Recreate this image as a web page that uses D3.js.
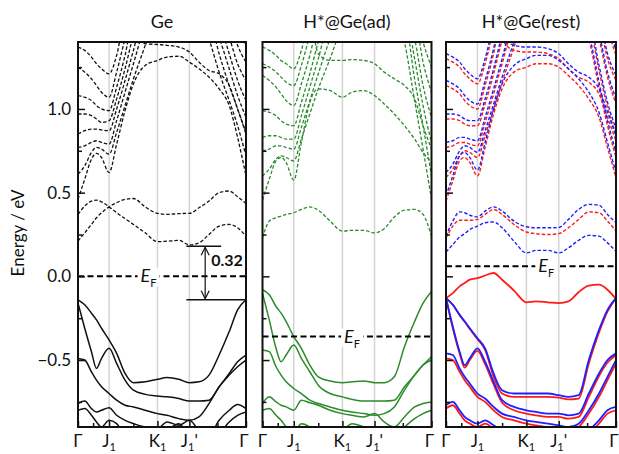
<!DOCTYPE html>
<html lang="en">
<head>
<meta charset="UTF-8" />
<title>Band structures</title>
<script src="https://d3js.org/d3.v7.min.js"></script>
<style>
  body { margin: 0; background: #fff; }
  text { font-family: Lato, 'Open Sans', sans-serif; fill: #111; }
</style>
</head>
<body>
<svg width="619" height="454"></svg>
<script>
// k path (fraction of Γ–J1–K1–J1'–Γ) and axis labels
var kGrid = [0, 0.04, 0.08, 0.11, 0.14, 0.185, 0.23, 0.28, 0.33, 0.4, 0.473, 0.53, 0.6, 0.663, 0.72, 0.78, 0.84, 0.9, 0.95, 1]
var kTicks = [0, 0.185, 0.473, 0.663, 1]
var kMinor = [0.09, 0.33, 0.83]
var kNames = [['Γ', '', ''], ['J', '1', ''], ['K', '1', ''], ['J', '1', "'"], ['Γ', '', '']]
var energyTicks = [-0.5, 0, 0.5, 1]
var energyMinor = [-0.75, -0.25, 0.25, 0.75, 1.25]
var titles = ['Ge', 'H*@Ge(ad)', 'H*@Ge(rest)']
var fermiLevels = [0, -0.36, 0.06]
var fermiLabelK = [0.42, 0.53, 0.59]
var gapTop = 0.18, gapBottom = -0.14, gapText = '0.32'

// Ge
var geValence = [
  [-0.14, -0.17, -0.22, -0.26, -0.31, -0.38, -0.46, -0.58, -0.635, -0.63, -0.615, -0.605, -0.615, -0.635, -0.63, -0.59, -0.47, -0.33, -0.2, -0.14],
  [-0.16, -0.31, -0.45, -0.55, -0.49, -0.43, -0.52, -0.62, -0.68, -0.705, -0.715, -0.72, -0.73, -0.745, -0.745, -0.74, -0.66, -0.58, -0.51, -0.47],
  [-0.49, -0.5, -0.57, -0.62, -0.66, -0.7, -0.74, -0.77, -0.78, -0.8, -0.82, -0.83, -0.85, -0.86, -0.84, -0.76, -0.66, -0.59, -0.54, -0.5],
  [-0.76, -0.745, -0.79, -0.81, -0.8, -0.785, -0.83, -0.86, -0.88, -0.9, -0.91, -0.87, -0.89, -0.86, -0.92, -0.95, -0.86, -0.8, -0.765, -0.79],
  [-0.8, -0.79, -0.83, -0.87, -0.9, -0.86, -0.88, -0.95, -0.97, -0.97, -0.95, -0.92, -0.88, -0.95, -0.97, -0.97, -0.94, -0.87, -0.83, -0.81]
]
var geConduction = [
  [0.21, 0.26, 0.31, 0.35, 0.38, 0.415, 0.44, 0.46, 0.465, 0.415, 0.376, 0.37, 0.375, 0.376, 0.41, 0.45, 0.5, 0.51, 0.475, 0.435],
  [0.37, 0.42, 0.45, 0.455, 0.445, 0.415, 0.38, 0.345, 0.31, 0.26, 0.207, 0.21, 0.215, 0.188, 0.2, 0.25, 0.3, 0.31, 0.29, 0.24],
  [0.46, 0.58, 0.7, 0.735, 0.71, 0.62, 0.79, 0.99, 1.15, 1.26, 1.29, 1.31, 1.315, 1.28, 1.24, 1.19, 1.12, 1.02, 0.83, 0.6],
  [0.61, 0.66, 0.74, 0.77, 0.76, 0.73, 0.86, 1.02, 1.18, 1.38, 1.6, 1.6, 1.6, 1.6, 1.6, 1.42, 1.22, 1.05, 0.9, 0.72],
  [0.77, 0.78, 0.8, 0.81, 0.8, 0.79, 0.93, 1.1, 1.27, 1.5, 1.6, 1.6, 1.6, 1.6, 1.6, 1.55, 1.33, 1.14, 1.0, 0.85],
  [0.85, 0.87, 0.88, 0.88, 0.875, 0.87, 1.0, 1.17, 1.35, 1.6, 1.6, 1.6, 1.6, 1.6, 1.6, 1.6, 1.43, 1.24, 1.08, 0.95],
  [0.97, 0.97, 0.96, 0.94, 0.92, 0.93, 1.06, 1.24, 1.44, 1.6, 1.6, 1.6, 1.6, 1.6, 1.6, 1.6, 1.52, 1.33, 1.17, 1.05],
  [1.08, 1.07, 1.05, 1.02, 1.0, 0.99, 1.13, 1.32, 1.55, 1.6, 1.6, 1.6, 1.6, 1.6, 1.6, 1.6, 1.6, 1.43, 1.27, 1.17],
  [1.25, 1.22, 1.18, 1.14, 1.1, 1.07, 1.22, 1.42, 1.6, 1.6, 1.6, 1.6, 1.6, 1.6, 1.6, 1.6, 1.6, 1.55, 1.38, 1.28],
  [1.37, 1.35, 1.31, 1.27, 1.24, 1.21, 1.32, 1.55, 1.6, 1.6, 1.6, 1.6, 1.6, 1.6, 1.6, 1.6, 1.6, 1.6, 1.5, 1.38],
  [1.6, 1.6, 1.6, 1.6, 1.6, 1.6, 1.6, 1.6, 1.45, 1.39, 1.385, 1.38, 1.37, 1.34, 1.28, 1.23, 1.21, 1.14, 1.0, 0.86]
]

// H*@Ge(ad)
var adValence = [
  [-0.08, -0.11, -0.18, -0.22, -0.27, -0.36, -0.43, -0.53, -0.6, -0.625, -0.635, -0.63, -0.625, -0.635, -0.635, -0.6, -0.42, -0.27, -0.16, -0.09],
  [-0.1, -0.26, -0.43, -0.51, -0.47, -0.41, -0.49, -0.57, -0.65, -0.7, -0.72, -0.735, -0.745, -0.745, -0.745, -0.74, -0.66, -0.59, -0.53, -0.48],
  [-0.44, -0.45, -0.54, -0.59, -0.63, -0.67, -0.7, -0.74, -0.76, -0.78, -0.8, -0.81, -0.82, -0.83, -0.82, -0.78, -0.68, -0.59, -0.53, -0.5],
  [-0.76, -0.72, -0.75, -0.77, -0.78, -0.8, -0.74, -0.755, -0.77, -0.8, -0.82, -0.83, -0.84, -0.82, -0.87, -0.9, -0.84, -0.78, -0.76, -0.75],
  [-0.8, -0.79, -0.83, -0.86, -0.9, -0.93, -0.88, -0.9, -0.95, -0.95, -0.92, -0.88, -0.9, -0.93, -0.97, -0.95, -0.9, -0.85, -0.82, -0.8]
]
var adConduction = [
  [0.23, 0.33, 0.35, 0.36, 0.37, 0.38, 0.4, 0.415, 0.395, 0.33, 0.27, 0.275, 0.275, 0.26, 0.285, 0.355, 0.395, 0.4, 0.37, 0.24],
  [0.455, 0.58, 0.69, 0.71, 0.68, 0.575, 0.8, 1.04, 1.12, 1.11, 1.07, 1.1, 1.11, 1.08, 1.03, 0.97, 0.9, 0.82, 0.74, 0.68],
  [0.6, 0.64, 0.7, 0.72, 0.71, 0.69, 0.82, 0.97, 1.12, 1.3, 1.5, 1.6, 1.6, 1.6, 1.6, 1.6, 1.4, 1.05, 0.76, 0.46],
  [0.75, 0.76, 0.78, 0.78, 0.77, 0.76, 0.89, 1.05, 1.21, 1.42, 1.6, 1.6, 1.6, 1.6, 1.6, 1.6, 1.55, 1.18, 0.9, 0.6],
  [0.83, 0.84, 0.84, 0.83, 0.82, 0.82, 0.96, 1.13, 1.3, 1.55, 1.6, 1.6, 1.6, 1.6, 1.6, 1.6, 1.6, 1.3, 1.02, 0.8],
  [0.99, 0.98, 0.96, 0.93, 0.91, 0.9, 1.04, 1.21, 1.4, 1.6, 1.6, 1.6, 1.6, 1.6, 1.6, 1.6, 1.6, 1.42, 1.14, 0.95],
  [1.2, 1.17, 1.13, 1.09, 1.05, 1.02, 1.15, 1.32, 1.52, 1.6, 1.6, 1.6, 1.6, 1.6, 1.6, 1.6, 1.6, 1.55, 1.28, 1.1],
  [1.27, 1.25, 1.22, 1.19, 1.16, 1.14, 1.26, 1.44, 1.6, 1.6, 1.6, 1.6, 1.6, 1.6, 1.6, 1.6, 1.6, 1.6, 1.4, 1.25],
  [1.37, 1.35, 1.32, 1.29, 1.27, 1.24, 1.35, 1.55, 1.6, 1.6, 1.6, 1.6, 1.6, 1.6, 1.6, 1.6, 1.6, 1.6, 1.52, 1.38],
  [1.6, 1.6, 1.6, 1.6, 1.6, 1.6, 1.6, 1.55, 1.33, 1.29, 1.29, 1.295, 1.29, 1.27, 1.22, 1.18, 1.14, 1.06, 0.9, 0.76]
]

// H*@Ge(rest): spin up (red) and spin down (blue)
var restValenceRed = [
  [-0.13, -0.1, -0.06, -0.04, -0.02, -0.01, 0.005, 0.02, -0.02, -0.085, -0.155, -0.15, -0.155, -0.16, -0.15, -0.095, -0.055, -0.05, -0.08, -0.135],
  [-0.13, -0.17, -0.23, -0.27, -0.315, -0.375, -0.44, -0.6, -0.7, -0.72, -0.72, -0.72, -0.72, -0.725, -0.735, -0.73, -0.52, -0.335, -0.21, -0.13],
  [-0.13, -0.31, -0.46, -0.545, -0.5, -0.445, -0.525, -0.645, -0.755, -0.8, -0.82, -0.83, -0.84, -0.84, -0.85, -0.84, -0.72, -0.595, -0.515, -0.47],
  [-0.49, -0.5, -0.57, -0.62, -0.66, -0.72, -0.75, -0.8, -0.84, -0.86, -0.88, -0.89, -0.9, -0.91, -0.92, -0.9, -0.82, -0.72, -0.62, -0.52],
  [-0.79, -0.77, -0.82, -0.86, -0.88, -0.9, -0.88, -0.91, -0.94, -0.95, -0.97, -0.95, -0.97, -0.94, -0.97, -0.99, -0.94, -0.88, -0.82, -0.8]
]
var restValenceBlue = [
  [-0.13, -0.17, -0.23, -0.27, -0.31, -0.37, -0.43, -0.58, -0.68, -0.7, -0.7, -0.7, -0.7, -0.71, -0.72, -0.71, -0.5, -0.32, -0.2, -0.13],
  [-0.13, -0.3, -0.45, -0.53, -0.49, -0.43, -0.51, -0.63, -0.74, -0.78, -0.8, -0.81, -0.82, -0.82, -0.83, -0.82, -0.7, -0.58, -0.5, -0.46],
  [-0.46, -0.47, -0.55, -0.6, -0.64, -0.7, -0.73, -0.78, -0.82, -0.84, -0.86, -0.87, -0.88, -0.89, -0.9, -0.88, -0.8, -0.7, -0.6, -0.5],
  [-0.77, -0.75, -0.8, -0.84, -0.86, -0.88, -0.86, -0.89, -0.92, -0.93, -0.95, -0.93, -0.95, -0.92, -0.95, -0.97, -0.92, -0.86, -0.8, -0.78]
]
var restConductionRed = [
  [0.23, 0.3, 0.335, 0.335, 0.335, 0.34, 0.37, 0.4, 0.37, 0.31, 0.265, 0.255, 0.25, 0.255, 0.29, 0.34, 0.385, 0.38, 0.33, 0.27],
  [0.45, 0.57, 0.69, 0.71, 0.68, 0.6, 0.77, 0.97, 1.12, 1.22, 1.25, 1.27, 1.27, 1.25, 1.2, 1.14, 1.06, 0.95, 0.77, 0.59],
  [0.59, 0.64, 0.72, 0.75, 0.74, 0.71, 0.84, 1.0, 1.16, 1.37, 1.6, 1.6, 1.6, 1.6, 1.6, 1.6, 1.42, 1.13, 0.9, 0.71],
  [0.77, 0.78, 0.8, 0.8, 0.79, 0.78, 0.92, 1.09, 1.27, 1.52, 1.6, 1.6, 1.6, 1.6, 1.6, 1.6, 1.52, 1.23, 1.01, 0.85],
  [0.94, 0.94, 0.93, 0.91, 0.9, 0.9, 1.03, 1.21, 1.41, 1.6, 1.6, 1.6, 1.6, 1.6, 1.6, 1.6, 1.6, 1.42, 1.19, 1.03],
  [1.14, 1.12, 1.09, 1.05, 1.02, 1.0, 1.14, 1.33, 1.58, 1.6, 1.6, 1.6, 1.6, 1.6, 1.6, 1.6, 1.6, 1.52, 1.3, 1.17],
  [1.3, 1.28, 1.25, 1.21, 1.18, 1.15, 1.27, 1.47, 1.6, 1.6, 1.6, 1.6, 1.6, 1.6, 1.6, 1.6, 1.6, 1.6, 1.47, 1.32],
  [1.6, 1.6, 1.6, 1.6, 1.6, 1.6, 1.6, 1.6, 1.42, 1.35, 1.34, 1.34, 1.33, 1.3, 1.24, 1.19, 1.16, 1.09, 0.95, 0.81]
]
var restConductionBlue = [
  [0.145, 0.19, 0.235, 0.255, 0.28, 0.3, 0.32, 0.325, 0.29, 0.21, 0.14, 0.155, 0.155, 0.14, 0.17, 0.215, 0.245, 0.24, 0.2, 0.15],
  [0.24, 0.33, 0.385, 0.38, 0.365, 0.355, 0.39, 0.415, 0.39, 0.33, 0.296, 0.29, 0.29, 0.292, 0.34, 0.4, 0.43, 0.425, 0.37, 0.32],
  [0.48, 0.6, 0.72, 0.74, 0.71, 0.635, 0.8, 1.0, 1.15, 1.26, 1.3, 1.32, 1.32, 1.29, 1.24, 1.18, 1.1, 0.98, 0.8, 0.62],
  [0.62, 0.67, 0.75, 0.78, 0.77, 0.74, 0.87, 1.03, 1.19, 1.4, 1.6, 1.6, 1.6, 1.6, 1.6, 1.6, 1.45, 1.16, 0.93, 0.74],
  [0.8, 0.81, 0.83, 0.83, 0.82, 0.81, 0.95, 1.12, 1.3, 1.55, 1.6, 1.6, 1.6, 1.6, 1.6, 1.6, 1.55, 1.26, 1.04, 0.88],
  [0.97, 0.97, 0.96, 0.94, 0.93, 0.93, 1.06, 1.24, 1.44, 1.6, 1.6, 1.6, 1.6, 1.6, 1.6, 1.6, 1.6, 1.45, 1.22, 1.06],
  [1.17, 1.15, 1.12, 1.08, 1.05, 1.03, 1.17, 1.36, 1.6, 1.6, 1.6, 1.6, 1.6, 1.6, 1.6, 1.6, 1.6, 1.55, 1.33, 1.2],
  [1.33, 1.31, 1.28, 1.24, 1.21, 1.18, 1.3, 1.5, 1.6, 1.6, 1.6, 1.6, 1.6, 1.6, 1.6, 1.6, 1.6, 1.6, 1.5, 1.35],
  [1.6, 1.6, 1.6, 1.6, 1.6, 1.6, 1.6, 1.6, 1.45, 1.38, 1.37, 1.37, 1.36, 1.33, 1.27, 1.22, 1.19, 1.12, 0.98, 0.84]
]

var svg = d3.select('svg')
var plotTop = 42, plotBottom = 427
var panelX = [[78, 246], [262.5, 431.5], [446, 616]]

var y = d3.scaleLinear().domain([-0.9, 1.4]).range([plotBottom, plotTop])

var panels = [
  { sets: [{ bands: geValence, color: '#111', dash: null, w: 1.5 },
           { bands: geConduction, color: '#111', dash: '3.5,2', w: 1.3 }] },
  { sets: [{ bands: adValence, color: '#2b8a2b', dash: null, w: 1.5 },
           { bands: adConduction, color: '#2b8a2b', dash: '3.5,2', w: 1.3 }] },
  { sets: [{ bands: restValenceRed, color: '#ff1a1a', dash: null, w: 1.8 },
           { bands: restValenceBlue, color: '#1f1fff', dash: null, w: 1.8 },
           { bands: restConductionRed, color: '#ff1a1a', dash: '3.5,2', w: 1.4 },
           { bands: restConductionBlue, color: '#1f1fff', dash: '3.5,2', w: 1.4 }] }
]

panels.forEach(function(p, i) {
  var x = d3.scaleLinear().domain([0, 1]).range(panelX[i])
  var g = svg.append('g')

  g.append('clipPath').attr('id', 'clip' + i)
    .append('rect')
    .attr('x', panelX[i][0]).attr('y', plotTop)
    .attr('width', panelX[i][1] - panelX[i][0]).attr('height', plotBottom - plotTop)

  // k-point guide lines
  g.selectAll('.grid')
    .data(kTicks.slice(1, 4))
    .enter().append('line')
    .attr('x1', d => x(d)).attr('x2', d => x(d))
    .attr('y1', plotTop).attr('y2', plotBottom)
    .attr('stroke', '#d4d4d4').attr('stroke-width', 1.5)

  var line = d3.line()
    .x((d, j) => x(kGrid[j]))
    .y(d => y(d))
    .curve(d3.curveMonotoneX)

  var plot = g.append('g').attr('clip-path', 'url(#clip' + i + ')')
  p.sets.forEach(function(s) {
    plot.append('g').selectAll('path')
      .data(s.bands)
      .enter().append('path')
      .attr('d', line)
      .attr('fill', 'none')
      .attr('stroke', s.color)
      .attr('stroke-width', s.w)
      .attr('stroke-dasharray', s.dash)
  })

  // Fermi level
  var yf = y(fermiLevels[i])
  g.append('line')
    .attr('x1', panelX[i][0]).attr('x2', panelX[i][1])
    .attr('y1', yf).attr('y2', yf)
    .attr('stroke', '#000').attr('stroke-width', 2)
    .attr('stroke-dasharray', '6,3.5')
  var lx = x(fermiLabelK[i])
  g.append('rect')
    .attr('x', lx - 11).attr('y', yf - 8)
    .attr('width', 22).attr('height', 18)
    .attr('fill', '#fff')
  var ef = g.append('text')
    .attr('x', lx).attr('y', yf + 6)
    .attr('text-anchor', 'middle')
    .style('font-size', '18px')
  ef.append('tspan').text('E').style('font-style', 'italic')
  ef.append('tspan').text('F').attr('dy', 5).style('font-size', '11px')

  // frame and ticks
  g.append('g')
    .attr('transform', 'translate(' + panelX[i][0] + ',0)')
    .call(d3.axisRight(y).tickValues(energyTicks).tickSize(7).tickFormat(''))
  g.append('g')
    .attr('transform', 'translate(' + panelX[i][0] + ',0)')
    .call(d3.axisRight(y).tickValues(energyMinor).tickSize(4).tickFormat(''))
  g.append('g')
    .attr('transform', 'translate(0,' + plotBottom + ')')
    .call(d3.axisTop(x).tickValues(kTicks).tickSize(6).tickFormat(''))
  g.append('g')
    .attr('transform', 'translate(0,' + plotBottom + ')')
    .call(d3.axisTop(x).tickValues(kMinor).tickSize(4).tickFormat(''))
  g.selectAll('.domain').remove()
  g.selectAll('.tick line').attr('stroke', '#111').attr('stroke-width', 1.5)

  g.append('rect')
    .attr('x', panelX[i][0]).attr('y', plotTop)
    .attr('width', panelX[i][1] - panelX[i][0]).attr('height', plotBottom - plotTop)
    .attr('fill', 'none').attr('stroke', '#111').attr('stroke-width', 2)

  // k labels
  kNames.forEach(function(n, j) {
    var t = g.append('text')
      .attr('x', x(kTicks[j]) - (j === 4 ? 2 : 0)).attr('y', 447)
      .attr('text-anchor', 'middle')
      .style('font-size', '17px')
    t.append('tspan').text(n[0])
    if (n[1]) t.append('tspan').text(n[1]).attr('dy', 4).style('font-size', '11px')
    if (n[2]) t.append('tspan').text(n[2]).attr('dy', -4)
  })

  g.append('text')
    .attr('x', (panelX[i][0] + panelX[i][1]) / 2).attr('y', 28)
    .attr('text-anchor', 'middle')
    .style('font-size', '18px')
    .text(titles[i])

  // band gap annotation on the Ge panel
  if (i === 0) {
    var yt = y(gapTop), yb = y(gapBottom), xa = x(0.757)
    g.append('line').attr('x1', x(0.645)).attr('x2', x(0.852))
      .attr('y1', yt).attr('y2', yt).attr('stroke', '#111').attr('stroke-width', 1.5)
    g.append('line').attr('x1', x(0.645)).attr('x2', x(1))
      .attr('y1', yb).attr('y2', yb).attr('stroke', '#111').attr('stroke-width', 1.5)
    g.append('line').attr('x1', xa).attr('x2', xa)
      .attr('y1', yt + 1).attr('y2', yb - 1).attr('stroke', '#111').attr('stroke-width', 1.2)
    g.append('path')
      .attr('d', 'M' + (xa - 4) + ',' + (yt + 9) + 'L' + xa + ',' + (yt + 1) + 'L' + (xa + 4) + ',' + (yt + 9)
        + 'M' + (xa - 4) + ',' + (yb - 9) + 'L' + xa + ',' + (yb - 1) + 'L' + (xa + 4) + ',' + (yb - 9))
      .attr('fill', 'none').attr('stroke', '#111').attr('stroke-width', 1.2)
    g.append('text')
      .attr('x', xa + 6).attr('y', (yt + yb) / 2 - 7)
      .style('font-size', '16px').style('font-weight', 'bold')
      .text(gapText)
  }
})

// energy axis labels
svg.append('g').selectAll('text')
  .data(energyTicks)
  .enter().append('text')
  .attr('x', 71).attr('y', d => y(d) + 6)
  .attr('text-anchor', 'end')
  .style('font-size', '17px')
  .text(d => d3.format('.1f')(d))

svg.append('text')
  .attr('transform', 'translate(24,' + 233 + ') rotate(-90)')
  .attr('text-anchor', 'middle')
  .style('font-size', '17px')
  .text('Energy / eV')
</script>
</body>
</html>
